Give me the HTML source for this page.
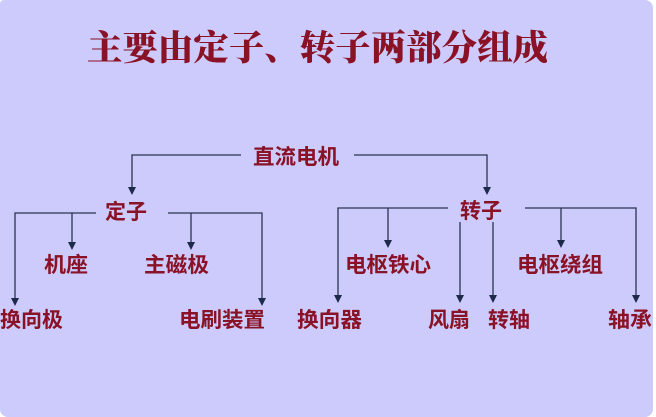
<!DOCTYPE html>
<html><head><meta charset="utf-8"><style>
html,body{margin:0;padding:0;background:#fff;}
#bg{position:absolute;left:0;top:0;width:653px;height:417px;background:#cccbfc;border-radius:4px 8px 8px 8px;overflow:hidden;}
svg{position:absolute;left:0;top:0;}
text{font-family:"Liberation Sans","Noto Sans CJK SC",sans-serif;fill:#8a1226;font-weight:bold;}
text.t{font-family:"Liberation Serif","Noto Serif CJK SC",serif;font-weight:900;}
</style></head><body>
<div id="bg"></div>
<svg width="656" height="417" viewBox="0 0 656 417">
<g stroke="#2a3550" stroke-width="1.3" fill="none">
<path d="M241,155 H132 V190"/>
<path d="M354,155 H487 V190"/>
<path d="M96,213 H15 V301"/>
<path d="M72,213 V245"/>
<path d="M168,213 H262 V301"/>
<path d="M191,213 V245"/>
<path d="M448,208 H338 V298"/>
<path d="M388,208 V243"/>
<path d="M460,222 V298"/>
<path d="M493,222 V298"/>
<path d="M525,208 H636 V298"/>
<path d="M561,208 V243"/>
</g>
<g fill="#1e2a4a">
<path d="M128,187 L136,187 L132,195z"/>
<path d="M483,187 L491,187 L487,195z"/>
<path d="M11,298 L19,298 L15,306z"/>
<path d="M68,242 L76,242 L72,250z"/>
<path d="M258,298 L266,298 L262,306z"/>
<path d="M187,242 L195,242 L191,250z"/>
<path d="M334,295 L342,295 L338,303z"/>
<path d="M384,240 L392,240 L388,248z"/>
<path d="M456,295 L464,295 L460,303z"/>
<path d="M489,295 L497,295 L493,303z"/>
<path d="M632,295 L640,295 L636,303z"/>
<path d="M557,240 L565,240 L561,248z"/>
</g>
<text class="t" x="87" y="60" font-size="35" textLength="461" lengthAdjust="spacingAndGlyphs">主要由定子、转子两部分组成</text>
<text x="253" y="164" font-size="21" textLength="86" lengthAdjust="spacingAndGlyphs">直流电机</text>
<text x="105" y="219" font-size="21" textLength="42" lengthAdjust="spacingAndGlyphs">定子</text>
<text x="460" y="218" font-size="21" textLength="42" lengthAdjust="spacingAndGlyphs">转子</text>
<text x="44" y="272" font-size="21" textLength="44" lengthAdjust="spacingAndGlyphs">机座</text>
<text x="144" y="272" font-size="21" textLength="65" lengthAdjust="spacingAndGlyphs">主磁极</text>
<text x="0" y="327" font-size="21" textLength="63" lengthAdjust="spacingAndGlyphs">换向极</text>
<text x="179" y="327" font-size="21" textLength="86" lengthAdjust="spacingAndGlyphs">电刷装置</text>
<text x="345" y="272" font-size="21" textLength="86" lengthAdjust="spacingAndGlyphs">电枢铁心</text>
<text x="517" y="272" font-size="21" textLength="86" lengthAdjust="spacingAndGlyphs">电枢绕组</text>
<text x="297" y="327" font-size="21" textLength="65" lengthAdjust="spacingAndGlyphs">换向器</text>
<text x="428" y="327" font-size="21" textLength="42" lengthAdjust="spacingAndGlyphs">风扇</text>
<text x="488" y="327" font-size="21" textLength="42" lengthAdjust="spacingAndGlyphs">转轴</text>
<text x="608" y="327" font-size="21" textLength="44" lengthAdjust="spacingAndGlyphs">轴承</text>
</svg>
</body></html>
